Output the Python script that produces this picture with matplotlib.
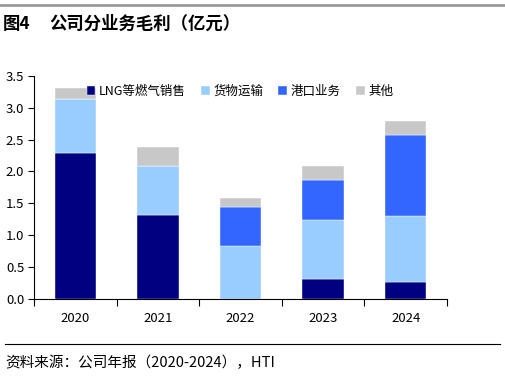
import numpy as np
import matplotlib.pyplot as plt
from matplotlib.lines import Line2D

plt.rcParams['font.family'] = ['Noto Sans CJK SC', 'DejaVu Sans']

years = ["2020", "2021", "2022", "2023", "2024"]
lng = [2.29, 1.32, 0.0, 0.31, 0.27]      # LNG等燃气销售
freight = [0.84, 0.76, 0.83, 0.93, 1.03]  # 货物运输
port = [0.0, 0.0, 0.61, 0.63, 1.27]       # 港口业务
other = [0.18, 0.30, 0.14, 0.21, 0.22]    # 其他

names = ["LNG等燃气销售", "货物运输", "港口业务", "其他"]
colors = ["#000080", "#99CCFF", "#3366FF", "#C8C8C8"]

fig = plt.figure(figsize=(5.05, 3.76), dpi=100)
ax = fig.add_axes([34/505, 1 - 299/376, (447 - 34)/505, (299 - 75.7)/376])

x = np.arange(len(years))
bottom = np.zeros(len(years))
for vals, name, c in zip([lng, freight, port, other], names, colors):
    ax.bar(x, vals, 0.5, bottom=bottom, color=c, label=name, edgecolor="white", linewidth=0.3)
    bottom += np.array(vals)

ax.set_ylim(0, 3.5)
ax.set_xlim(-0.5, len(years) - 0.5)
ax.set_yticks(np.arange(0, 3.51, 0.5))
ax.set_yticklabels([f"{v:.1f}" for v in np.arange(0, 3.51, 0.5)], fontsize=9.5)
ax.tick_params(axis="y", length=4, width=0.8, pad=3)

# categories labelled at centres, ticks at boundaries
ax.set_xticks(x)
ax.set_xticklabels(years, fontsize=9.5)
ax.tick_params(axis="x", which="major", length=0, pad=9)
ax.set_xticks(np.arange(-0.5, len(years)), minor=True)
ax.tick_params(axis="x", which="minor", length=5, width=0.8, direction="out")

for s in ["top", "right"]:
    ax.spines[s].set_visible(False)
ax.spines["left"].set_linewidth(0.8)
ax.spines["bottom"].set_linewidth(0.8)

ax.legend(loc="upper left", bbox_to_anchor=(0.1, 1.01), ncol=4, frameon=False, fontsize=9,
          handlelength=0.7, handleheight=0.7, handletextpad=0.3, columnspacing=1.2)

# header and footer
fig.add_artist(Line2D([0, 1], [1 - 5/376] * 2, color="#999999", lw=2))
fig.text(3/505, 1 - 24/376, "图4", fontsize=12.5, fontweight="bold", va="center")
fig.text(49/505, 1 - 24/376, "公司分业务毛利（亿元）", fontsize=12.5, fontweight="bold", va="center")
fig.add_artist(Line2D([5/505, 500/505], [1 - 344/376] * 2, color="black", lw=0.8))
fig.text(5/505, 1 - 363/376, "资料来源：公司年报（2020-2024），HTI", fontsize=10.5, va="center")

fig.savefig("out.png", dpi=100)
